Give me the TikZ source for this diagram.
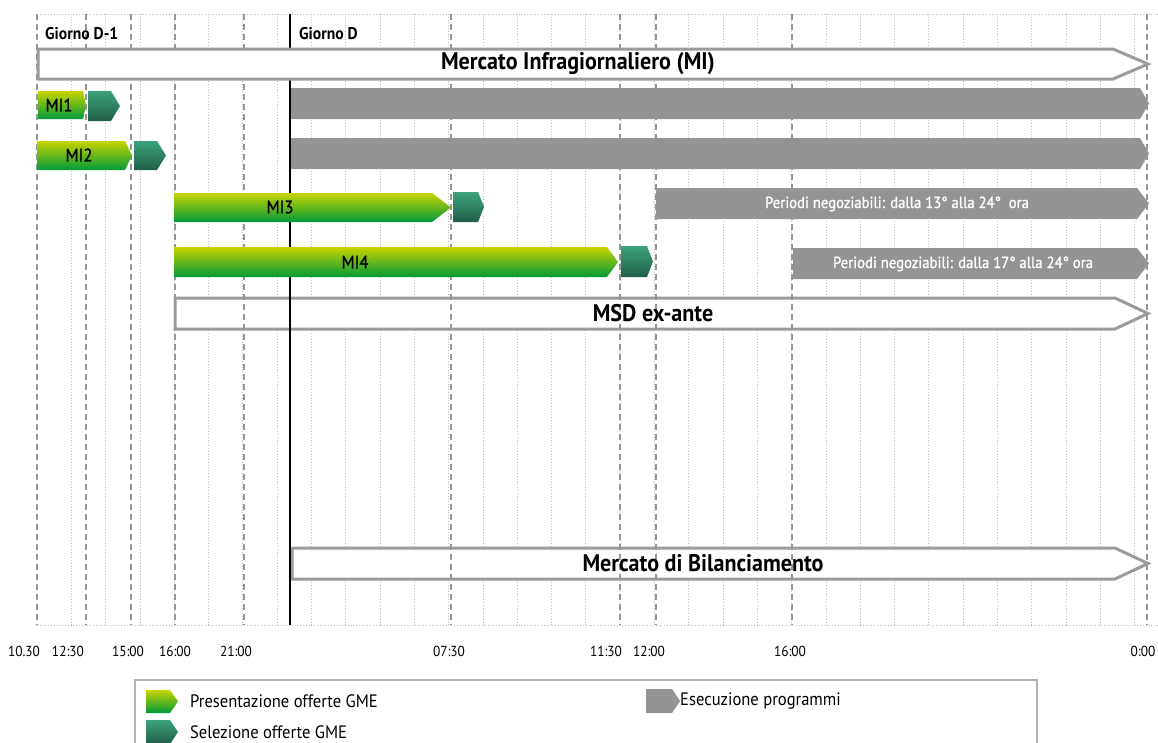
\documentclass[tikz,border=0pt]{standalone}
\usepackage{fontspec}
\setmainfont{PT Sans}[FakeStretch=0.92]
\newfontfamily\semibf{PT Sans}[FakeStretch=0.92, FakeBold=1.2]
\definecolor{bargray}{RGB}{148,148,148}
\definecolor{boxgray}{RGB}{155,155,155}
\definecolor{gtop}{RGB}{200,212,0}
\definecolor{gbot}{RGB}{0,154,58}
\definecolor{seltop}{RGB}{58,163,122}
\definecolor{selbot}{RGB}{33,94,72}
\definecolor{minorgrid}{RGB}{190,190,190}
\definecolor{majorgrid}{RGB}{150,150,150}
\newcommand\pentashape[6]{% style, x1, y1, xbody, xtip, y2
  \path[#1] (#2,#3) -- (#4,#3) -- (#5,{(#3+#6)/2}) -- (#4,#6) -- (#2,#6) -- cycle;}
\tikzset{
  gridminor/.style={draw=minorgrid, dotted, line width=0.8pt},
  gridmajor/.style={draw=majorgrid, dash pattern=on 6pt off 4pt, line width=1.2pt},
  outlinebox/.style={draw=boxgray, line width=3pt, fill=white, line join=miter},
  presbar/.style={top color=gtop, bottom color=gbot, draw=none},
  selbar/.style={top color=seltop, bottom color=selbot, draw=none},
  execbar/.style={fill=bargray, draw=none},
  boxtitle/.style={font=\fontsize{24}{26}\selectfont\bfseries, text=black, inner sep=0pt},
  daylabel/.style={font=\fontsize{17}{20}\selectfont\bfseries, anchor=west, inner sep=0pt},
  mitext/.style={font=\fontsize{18}{20}\selectfont\semibf, inner sep=0pt},
  periodtext/.style={font=\fontsize{16}{18}\selectfont\semibf, text=white, inner sep=0pt},
  timelabel/.style={font=\fontsize{14.5}{16}\selectfont, inner sep=0pt},
  legendtext/.style={font=\fontsize{18}{20}\selectfont, anchor=west, inner sep=0pt}
}
\begin{document}
\begin{tikzpicture}[x=1pt,y=-1pt]
\useasboundingbox (0,0) rectangle (1158,742);
% minor dotted grid
\foreach \k in {1,...,32} \draw[gridminor] ({37+34.3*\k},14) -- ({37+34.3*\k},625);
\draw[gridminor] (37,14) -- (1158,14);
\draw[gridminor] (37,625) -- (1158,625);
% lower boxes (under dashed lines)
\pentashape{outlinebox}{175}{298}{1115}{1148}{329}
\pentashape{outlinebox}{292}{548}{1115}{1148}{579}
% major dashed lines
\foreach \x in {37,86,131,175,244,451,620,656,792,1147} \draw[gridmajor] (\x,14) -- (\x,625);
\draw[black, line width=1.3pt] (290,14) -- (290,625);
% MI box
\pentashape{outlinebox}{38}{49}{1113}{1148}{79}
% execution bars
\pentashape{execbar}{291}{88}{1140}{1149}{119}
\pentashape{execbar}{291}{138}{1140}{1149}{169}
\pentashape{execbar}{656}{188}{1137}{1149}{219}
\pentashape{execbar}{793}{248}{1137}{1149}{279}
% presentation bars
\pentashape{presbar}{38}{91}{83}{86}{119}
\pentashape{presbar}{37}{141}{125}{132}{170}
\pentashape{presbar}{174}{193}{432}{451}{222}
\pentashape{presbar}{174}{247}{607}{618}{277}
% selection bars
\pentashape{selbar}{88}{91}{111}{120}{121}
\pentashape{selbar}{134}{141}{157}{166}{170}
\pentashape{selbar}{453}{192}{478}{484}{222}
\pentashape{selbar}{621}{246}{647}{653}{277}
% texts
\node[daylabel] (dm1) at (45,34) {Giorno D-1};
\node[daylabel] (dd) at (299,34) {Giorno D};
\node[boxtitle] (mi) at (578,64) {Mercato Infragiornaliero (MI)};
\node[mitext] (mi1) at (59,105) {MI1};
\node[mitext] (mi2) at (79,155) {MI2};
\node[mitext] (mi3) at (280,207) {MI3};
\node[mitext] (mi4) at (355,262) {MI4};
\node[periodtext] (p13) at (897,204) {Periodi negoziabili: dalla 13° alla 24°\ \ ora};
\node[periodtext] (p17) at (963,264) {Periodi negoziabili: dalla 17° alla 24° ora};
\node[boxtitle] (msd) at (653,313) {MSD ex-ante};
\node[boxtitle] (mb) at (703,563) {Mercato di Bilanciamento};
% time labels
\foreach \x/\t [count=\i] in {24/10.30, 68/12:30, 128/15:00, 175/16:00, 236/21:00, 449/07:30, 606/11:30, 649/12:00, 790/16:00, 1143/0:00}
  \node[timelabel] (t\i) at (\x,651) {\t};
% legend
\draw[draw=gray!60, line width=1.2pt] (135,745) -- (135,680) -- (1037,680) -- (1037,745);
\pentashape{presbar}{146}{690}{170}{178}{713}
\pentashape{selbar}{146}{720}{170}{178}{744}
\pentashape{execbar}{646}{689}{672}{680}{713}
\node[legendtext] (l1) at (190,701) {Presentazione offerte GME};
\node[legendtext] (l2) at (190,732) {Selezione offerte GME};
\node[legendtext] (l3) at (680,701) {Esecuzione programmi};
\end{tikzpicture}
\end{document}
